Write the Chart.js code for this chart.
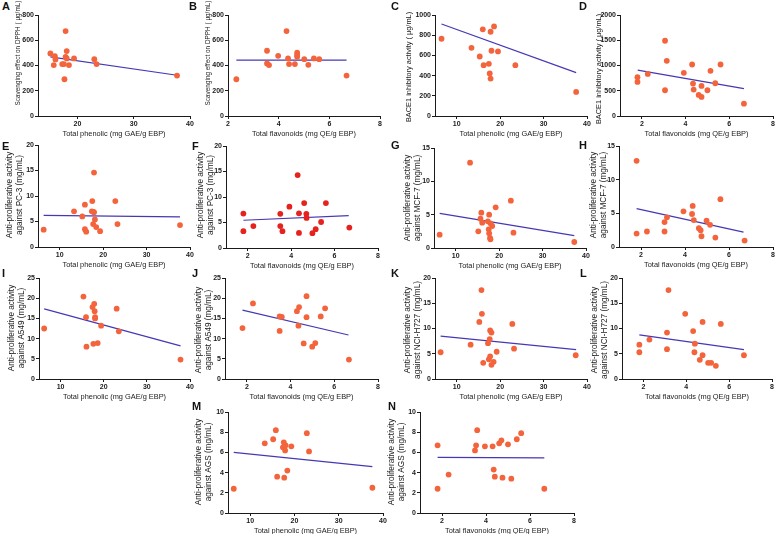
<!DOCTYPE html>
<html>
<head>
<meta charset="utf-8">
<script src="https://cdn.jsdelivr.net/npm/chart.js@4.4.1/dist/chart.umd.min.js"></script>
<style>
  body { margin: 0; background: #fff; }
  #page { position: relative; width: 778px; height: 534px; overflow: hidden; font-family: "Liberation Sans", Arial, sans-serif; }
  .panel { position: absolute; }
  .tag { position: absolute; font-weight: bold; font-size: 11px; line-height: 11px; color: #111; }
</style>
</head>
<body>
<div id="page"></div>
<script>
// tick labels
var phenTicksA = [20, 30, 40];
var phenTicks = [10, 20, 30, 40];
var flavTicks = [2, 4, 6, 8];
var dpphTicks = [0, 200, 400, 600, 800];
var baceTicksC = [0, 200, 400, 600, 800, 1000];
var baceTicksD = [0, 500, 1000, 1500, 2000];
var pc3Ticks = [0, 5, 10, 15, 20];
var mcfTicks = [0, 5, 10, 15];
var a549Ticks = [0, 5, 10, 15, 20, 25];
var nciTicks = [0, 5, 10, 15, 20];
var agsTicks = [0, 2, 4, 6, 8, 10];

// A - phenolic vs DPPH
var aX = [15.2, 16.0, 16.1, 15.8, 17.3, 17.6, 17.9, 17.9, 18.1, 18.1, 18.5, 17.7, 19.4, 23.0, 23.4, 37.7];
var aY = [495, 474, 448, 403, 411, 411, 673, 469, 514, 456, 403, 291, 456, 450, 411, 320];
var aFitX = [15.2, 37.7], aFitY = [469, 323];
// B - flavonoids vs DPPH
var bX = [2.33, 3.54, 3.54, 3.62, 3.98, 4.31, 4.37, 4.41, 4.64, 4.73, 4.73, 4.73, 5.01, 5.17, 5.39, 5.60, 6.68];
var bY = [291, 517, 416, 403, 477, 673, 456, 411, 411, 501, 482, 469, 450, 405, 456, 450, 320];
var bFitX = [2.33, 6.68], bFitY = [442, 442];
// C - phenolic vs BACE1
var cX = [6.5, 13.4, 15.3, 16.0, 16.2, 17.4, 17.6, 17.8, 18.0, 17.8, 18.6, 19.5, 23.5, 37.5];
var cY = [765, 675, 589, 858, 503, 517, 421, 834, 646, 371, 887, 639, 503, 238];
var cFitX = [6.5, 37.5], cFitY = [911, 430];
// D - flavonoids vs BACE1
var dX = [1.8, 1.8, 2.27, 3.06, 3.14, 3.06, 3.92, 4.3, 4.34, 4.37, 4.6, 4.73, 4.73, 5.0, 5.14, 5.36, 5.6, 6.67];
var dY = [768, 675, 834, 1490, 1093, 510, 854, 1020, 642, 523, 417, 596, 377, 510, 894, 649, 1020, 245];
var dFitX = [1.81, 6.67], dFitY = [907, 543];
// E - phenolic vs PC-3
var eX = [6.3, 13.3, 15.2, 15.8, 15.8, 16.1, 17.4, 17.5, 17.8, 17.9, 17.9, 17.7, 18.1, 18.4, 19.3, 22.8, 23.3, 37.7];
var eY = [3.4, 7.0, 6.0, 8.3, 3.5, 3.0, 7.0, 9.0, 6.9, 6.8, 14.6, 4.5, 5.4, 3.9, 3.1, 9.0, 4.5, 4.3];
var eFitX = [6.3, 37.7], eFitY = [6.2, 5.9];
// F - flavonoids vs PC-3
var fX = [1.8, 1.8, 2.26, 3.5, 3.5, 3.6, 3.92, 4.3, 4.36, 4.36, 4.6, 4.7, 4.71, 4.98, 5.13, 5.38, 5.6, 6.68];
var fY = [6.75, 3.3, 4.3, 6.7, 4.3, 3.3, 8.1, 14.3, 6.8, 2.95, 8.8, 6.7, 5.9, 2.9, 3.7, 5.1, 8.8, 4.0];
var fFitX = [1.8, 6.65], fFitY = [5.44, 6.36];
// G - phenolic vs MCF-7
var gX = [6.3, 13.3, 15.2, 15.9, 15.7, 16.1, 17.4, 17.6, 17.7, 17.7, 17.9, 18.0, 18.0, 18.4, 19.2, 22.7, 23.3, 37.3];
var gY = [2.0, 12.8, 2.5, 5.3, 4.4, 3.8, 4.0, 2.8, 5.0, 2.2, 1.5, 1.3, 3.7, 3.3, 6.1, 7.1, 2.3, 0.9];
var gFitX = [6.3, 37.3], gFitY = [5.2, 1.85];
// H - flavonoids vs MCF-7
var hX = [1.8, 1.8, 2.27, 3.07, 3.07, 3.18, 3.93, 4.32, 4.35, 4.4, 4.63, 4.71, 4.75, 4.98, 5.14, 5.38, 5.61, 6.71];
var hY = [12.8, 2.0, 2.3, 3.7, 2.3, 4.4, 5.3, 4.9, 6.1, 4.0, 2.8, 2.5, 1.6, 3.9, 3.3, 1.4, 7.1, 0.95];
var hFitX = [1.8, 6.66], hFitY = [5.7, 2.2];
// I - phenolic vs A549
var iX = [6.2, 15.3, 15.9, 16.0, 17.4, 17.6, 17.8, 17.9, 18.0, 18.0, 18.6, 19.4, 23.0, 23.5, 37.8];
var iY = [12.5, 20.4, 15.3, 8.0, 17.8, 8.7, 18.6, 16.8, 15.3, 15.0, 8.9, 13.2, 17.4, 11.8, 4.8];
var iFitX = [6.2, 37.8], iFitY = [17.35, 8.2];
// J - flavonoids vs A549
var jX = [1.8, 2.28, 3.5, 3.6, 3.5, 4.29, 4.39, 4.36, 4.6, 4.73, 4.73, 4.99, 5.13, 5.38, 5.58, 6.67];
var jY = [12.6, 18.7, 15.5, 15.4, 11.9, 16.8, 17.8, 13.2, 8.8, 20.5, 15.3, 8.0, 8.9, 15.5, 17.5, 4.8];
var jFitX = [1.8, 6.65], jFitY = [17.05, 10.9];
// K - phenolic vs NCI-H727
var kX = [6.3, 13.2, 15.2, 15.7, 15.8, 16.1, 17.2, 17.4, 17.6, 17.7, 17.7, 18.0, 18.0, 18.5, 19.2, 22.8, 23.2, 37.4];
var kY = [5.3, 6.8, 11.3, 17.6, 12.9, 3.2, 7.1, 3.9, 7.9, 4.5, 9.6, 9.2, 2.8, 3.4, 5.4, 10.9, 6.0, 4.7];
var kFitX = [6.3, 37.5], kFitY = [8.5, 5.8];
// L - flavonoids vs NCI-H727
var lX = [1.81, 1.81, 2.28, 3.17, 3.1, 3.1, 3.95, 4.32, 4.4, 4.38, 4.63, 4.76, 4.76, 5.02, 5.16, 5.38, 5.61, 6.69];
var lY = [6.8, 5.3, 7.8, 17.6, 9.2, 5.9, 12.9, 9.5, 7.0, 5.3, 3.8, 4.7, 11.3, 3.2, 3.2, 2.6, 10.9, 4.7];
var lFitX = [1.81, 6.69], lFitY = [8.75, 5.8];
// M - phenolic vs AGS
var mX = [6.3, 13.3, 15.2, 15.8, 16.1, 17.4, 17.6, 17.7, 17.9, 18.0, 18.4, 19.3, 22.8, 23.3, 37.6];
var mY = [2.4, 6.9, 7.3, 8.2, 3.6, 6.5, 7.0, 3.5, 6.2, 6.7, 4.2, 6.6, 7.9, 6.1, 2.5];
var mFitX = [6.3, 37.6], mFitY = [6.0, 4.6];
// N - flavonoids vs AGS
var nX = [1.8, 1.8, 2.3, 3.5, 3.55, 3.6, 3.95, 4.3, 4.35, 4.4, 4.6, 4.7, 4.75, 5.0, 5.15, 5.4, 5.6, 6.65];
var nY = [6.7, 2.4, 3.8, 6.2, 6.7, 8.2, 6.6, 6.6, 4.3, 3.6, 6.9, 7.2, 3.5, 6.8, 3.4, 7.3, 7.9, 2.4];
var nFitX = [1.8, 6.65], nFitY = [5.5, 5.45];

var phenTitle = "Total phenolic (mg GAE/g EBP)";
var flavTitle = "Total flavonoids (mg QE/g EBP)";
var dpphTitle = ["Scavenging effect on DPPH ( \u03bcg/mL)"];
var baceTitle = ["BACE1 inhibitory activity ( \u03bcg/mL)"];
function anti(cell) { return ["Anti-proliferative activity", "against " + cell + " (mg/mL)"]; }

var DOT = "#f4643c";
var DOT_RED = "#e6221f";
var FIT = "#4638b4";
var INK = "#1a1a1a";

function pts(xs, ys) {
  return xs.map(function (x, k) { return { x: x, y: ys[k] }; });
}
function plain(v) { return String(v); }

// L/T/R/B = plot box on the page; yx/yy = centre of the first y-title line
var panels = [
  { tag: "A", tx: 2, ty: 1, L: 38, T: 15, R: 190, B: 116, x: aX, y: aY, fx: aFitX, fy: aFitY, xmin: 13, xmax: 40, xt: phenTicksA, ymax: 800, yt: dpphTicks, xTitle: phenTitle, yTitle: dpphTitle, ySize: 6.4, yx: 18, yy: 53 },
  { tag: "B", tx: 189, ty: 1, L: 228, T: 15, R: 380, B: 116, x: bX, y: bY, fx: bFitX, fy: bFitY, xmin: 2, xmax: 8, xt: flavTicks, ymax: 800, yt: dpphTicks, xTitle: flavTitle, yTitle: dpphTitle, ySize: 6.4, yx: 208, yy: 53 },
  { tag: "C", tx: 391, ty: 1, L: 435, T: 15, R: 587, B: 116, x: cX, y: cY, fx: cFitX, fy: cFitY, xmin: 5, xmax: 40, xt: phenTicks, ymax: 1000, yt: baceTicksC, xTitle: phenTitle, yTitle: baceTitle, ySize: 7.4, yx: 409, yy: 67 },
  { tag: "D", tx: 579, ty: 1, L: 620, T: 15, R: 773, B: 116, x: dX, y: dY, fx: dFitX, fy: dFitY, xmin: 1, xmax: 8, xt: flavTicks, ymax: 2000, yt: baceTicksD, xTitle: flavTitle, yTitle: baceTitle, ySize: 7.4, yx: 599, yy: 69 },
  { tag: "E", tx: 2, ty: 141, L: 38, T: 145, R: 190, B: 247, x: eX, y: eY, fx: eFitX, fy: eFitY, xmin: 5, xmax: 40, xt: phenTicks, ymax: 20, yt: pc3Ticks, xTitle: phenTitle, yTitle: anti("PC-3"), ySize: 8.2, yx: 10, yy: 195 },
  { tag: "F", tx: 192, ty: 141, L: 226, T: 146, R: 378, B: 248, x: fX, y: fY, fx: fFitX, fy: fFitY, xmin: 1, xmax: 8, xt: flavTicks, ymax: 20, yt: pc3Ticks, xTitle: flavTitle, yTitle: anti("PC-3"), ySize: 8.2, yx: 200.5, yy: 195, dot: DOT_RED },
  { tag: "G", tx: 391, ty: 140, L: 434, T: 148, R: 586, B: 248, x: gX, y: gY, fx: gFitX, fy: gFitY, xmin: 5, xmax: 40, xt: phenTicks, ymax: 15, yt: mcfTicks, xTitle: phenTitle, yTitle: anti("MCF-7"), ySize: 8.2, yx: 407.5, yy: 198 },
  { tag: "H", tx: 579, ty: 140, L: 619, T: 146, R: 773, B: 247, x: hX, y: hY, fx: hFitX, fy: hFitY, xmin: 1, xmax: 8, xt: flavTicks, ymax: 15, yt: mcfTicks, xTitle: flavTitle, yTitle: anti("MCF-7"), ySize: 8.2, yx: 594, yy: 195 },
  { tag: "I", tx: 2, ty: 268, L: 39, T: 278, R: 190, B: 379, x: iX, y: iY, fx: iFitX, fy: iFitY, xmin: 5, xmax: 40, xt: phenTicks, ymax: 25, yt: a549Ticks, xTitle: phenTitle, yTitle: anti("A549"), ySize: 8.2, yx: 12, yy: 328 },
  { tag: "J", tx: 192, ty: 268, L: 225, T: 278, R: 378, B: 379, x: jX, y: jY, fx: jFitX, fy: jFitY, xmin: 1, xmax: 8, xt: flavTicks, ymax: 25, yt: a549Ticks, xTitle: flavTitle, yTitle: anti("A549"), ySize: 8.2, yx: 199, yy: 330 },
  { tag: "K", tx: 391, ty: 268, L: 435, T: 278, R: 587, B: 379, x: kX, y: kY, fx: kFitX, fy: kFitY, xmin: 5, xmax: 40, xt: phenTicks, ymax: 20, yt: nciTicks, xTitle: phenTitle, yTitle: anti("NCI-H727"), ySize: 8.2, yx: 408, yy: 330 },
  { tag: "L", tx: 580, ty: 268, L: 622, T: 278, R: 772, B: 379, x: lX, y: lY, fx: lFitX, fy: lFitY, xmin: 1, xmax: 8, xt: flavTicks, ymax: 20, yt: nciTicks, xTitle: flavTitle, yTitle: anti("NCI-H727"), ySize: 8.2, yx: 595, yy: 330 },
  { tag: "M", tx: 192, ty: 401, L: 228, T: 412, R: 383, B: 513, x: mX, y: mY, fx: mFitX, fy: mFitY, xmin: 5, xmax: 40, xt: phenTicks, ymax: 10, yt: agsTicks, xTitle: phenTitle, yTitle: anti("AGS"), ySize: 8.2, yx: 199, yy: 462 },
  { tag: "N", tx: 388, ty: 401, L: 420, T: 412, R: 574, B: 513, x: nX, y: nY, fx: nFitX, fy: nFitY, xmin: 1, xmax: 8, xt: flavTicks, ymax: 10, yt: agsTicks, xTitle: flavTitle, yTitle: anti("AGS"), ySize: 8.2, yx: 392, yy: 462 }
];

// rotated y-axis titles, placed where the figure has them
var yTitlePlugin = {
  id: "yTitle",
  afterDraw: function (chart, args, o) {
    var ctx = chart.ctx;
    ctx.save();
    ctx.fillStyle = INK;
    ctx.font = o.size + 'px "Liberation Sans"';
    ctx.textAlign = "center";
    ctx.textBaseline = "middle";
    o.lines.forEach(function (t, k) {
      ctx.save();
      ctx.translate(o.x + k * o.gap, o.y);
      ctx.rotate(-Math.PI / 2);
      ctx.fillText(t, 0, 0);
      ctx.restore();
    });
    ctx.restore();
  }
};

var page = document.getElementById("page");
var YW = 38, XH = 26, PT = 14, PR = 10;

panels.forEach(function (p) {
  var tag = document.createElement("div");
  tag.className = "tag";
  tag.style.left = p.tx + "px";
  tag.style.top = p.ty + "px";
  tag.textContent = p.tag;
  page.appendChild(tag);

  var left = p.L - YW, top = p.T - PT;
  var w = YW + (p.R - p.L) + PR;
  var h = PT + (p.B - p.T) + XH;
  var box = document.createElement("div");
  box.className = "panel";
  box.style.left = left + "px";
  box.style.top = top + "px";
  box.style.width = w + "px";
  box.style.height = h + "px";
  var cv = document.createElement("canvas");
  cv.width = w; cv.height = h;
  cv.style.width = w + "px"; cv.style.height = h + "px";
  box.appendChild(cv);
  page.appendChild(box);

  new Chart(cv, {
    type: "scatter",
    data: {
      datasets: [
        {
          data: pts(p.x, p.y),
          backgroundColor: p.dot || DOT,
          borderWidth: 0,
          pointRadius: 2.9
        },
        {
          data: pts(p.fx, p.fy),
          showLine: true,
          borderColor: FIT,
          borderWidth: 1.2,
          pointRadius: 0
        }
      ]
    },
    plugins: [yTitlePlugin],
    options: {
      responsive: false,
      animation: false,
      events: [],
      layout: { padding: { left: 0, top: PT, right: PR, bottom: 0 } },
      plugins: {
        legend: { display: false },
        tooltip: { enabled: false },
        yTitle: { lines: p.yTitle, size: p.ySize, x: p.yx - left, y: p.yy - top, gap: 10 }
      },
      scales: {
        x: {
          type: "linear",
          min: p.xmin, max: p.xmax,
          afterBuildTicks: function (s) { s.ticks = p.xt.map(function (v) { return { value: v }; }); },
          afterFit: function (s) { s.height = XH; s.paddingLeft = 0; s.paddingRight = 0; },
          grid: { display: true, drawOnChartArea: false, drawTicks: true, tickLength: 3, color: INK, lineWidth: 1 },
          border: { display: true, color: INK, width: 1 },
          ticks: { color: INK, font: { size: 7, weight: "bold", family: "Liberation Sans" }, padding: 1, maxRotation: 0, autoSkip: false, callback: plain },
          title: { display: true, text: p.xTitle, color: INK, font: { size: 7.4, family: "Liberation Sans" }, padding: { top: 0, bottom: 4 } }
        },
        y: {
          type: "linear",
          min: 0, max: p.ymax,
          afterBuildTicks: function (s) { s.ticks = p.yt.map(function (v) { return { value: v }; }); },
          afterFit: function (s) { s.width = YW; s.paddingTop = 0; s.paddingBottom = 0; },
          grid: { display: true, drawOnChartArea: false, drawTicks: true, tickLength: 3, color: INK, lineWidth: 1 },
          border: { display: true, color: INK, width: 1 },
          ticks: { color: INK, font: { size: 7, weight: "bold", family: "Liberation Sans" }, padding: 1, autoSkip: false, callback: plain },
          title: { display: false }
        }
      }
    }
  });
});
</script>
</body>
</html>
